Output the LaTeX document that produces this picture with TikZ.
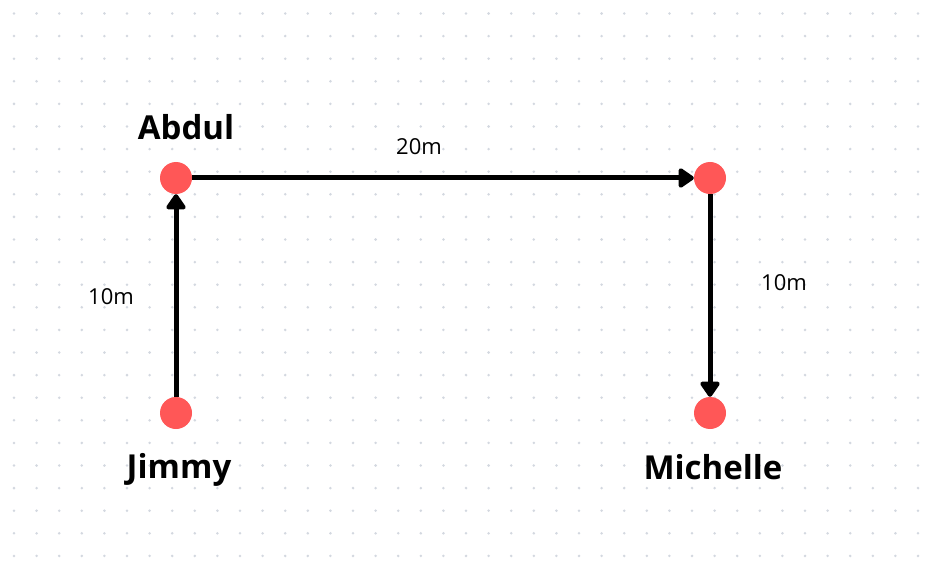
\documentclass[tikz,border=0pt]{standalone}
\usepackage{fontspec}
\setmainfont{Open Sans}
\usetikzlibrary{arrows.meta}
\definecolor{dotred}{HTML}{FF5757}
\definecolor{griddot}{HTML}{D3D8E0}

\begin{document}
\begin{tikzpicture}[x=1pt, y=-1pt,
    person/.style={circle, fill=dotred, minimum size=32pt, inner sep=0pt},
    personname/.style={font=\bfseries\fontsize{33}{37}\selectfont},
    distlabel/.style={font=\fontsize{22}{26}\selectfont},
    walk/.style={line width=5pt, -{Triangle[length=17pt, width=22pt, round]}}]
        \useasboundingbox (0,0) rectangle (936,569);
        \fill[white] (0,0) rectangle (936,569);
        % dotted background
        \foreach \i in {0,...,41}
            \foreach \j in {0,...,24}
                \fill[griddot] (14+22.6*\i, 13.5+22.6*\j) circle (1.4pt);
        \node[person] (abdul) at (176,178) {};
        \node[person] (corner) at (710,178) {};
        \node[person] (jimmy) at (176,413) {};
        \node[person] (michelle) at (710,413) {};
        \draw[walk] (jimmy) -- (abdul);
        \draw[walk] (abdul) -- (corner);
        \draw[walk] (corner) -- (michelle);
        \node[personname] (abdullabel) at (186,127) {Abdul};
        \node[personname] (jimmylabel) at (179,470) {Jimmy};
        \node[personname] (michellelabel) at (713,467) {Michelle};
        \node[distlabel] (toplen) at (419,147) {20m};
        \node[distlabel] (leftlen) at (111,297) {10m};
        \node[distlabel] (rightlen) at (784,283) {10m};
    \end{tikzpicture}
\end{document}
